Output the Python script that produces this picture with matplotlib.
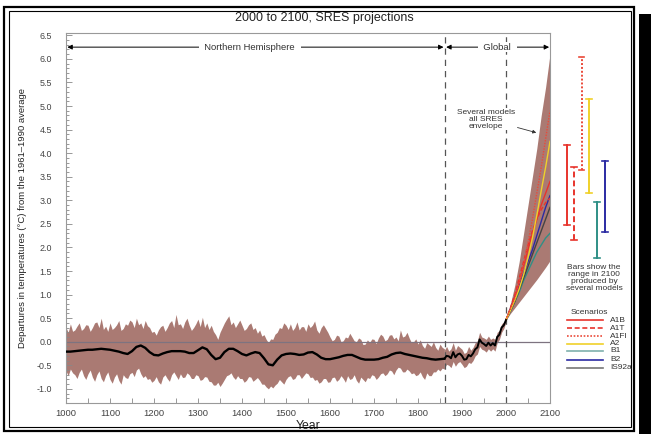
import numpy as np
import matplotlib
matplotlib.use('Agg')
import matplotlib.pyplot as plt
from matplotlib.lines import Line2D
from matplotlib.patches import Rectangle
import matplotlib.transforms as mtrans

plt.rcParams['font.family'] = ['Liberation Sans', 'DejaVu Sans']

# ---------------- data ----------------
# Northern Hemisphere reconstruction uncertainty band 1000-1860 (every 5 years)
band_years = np.arange(1000, 1861, 5)
nh_upper = [0.30, 0.20, 0.38, 0.22, 0.25, 0.33, 0.40, 0.24, 0.28, 0.36, 0.35, 0.22, 0.30, 0.40, 0.42, 0.30, 0.50, 0.26, 0.33, 0.22,
            0.40, 0.26, 0.30, 0.36, 0.45, 0.24, 0.28, 0.38, 0.35, 0.46, 0.42, 0.30, 0.50, 0.36, 0.40, 0.28, 0.45, 0.34, 0.30, 0.20,
            0.22, 0.14, 0.25, 0.32, 0.35, 0.22, 0.30, 0.40, 0.45, 0.30, 0.58, 0.36, 0.38, 0.28, 0.42, 0.50, 0.35, 0.24, 0.30, 0.38,
            0.48, 0.32, 0.52, 0.30, 0.40, 0.26, 0.35, 0.22, 0.15, 0.05, 0.20, 0.30, 0.40, 0.48, 0.55, 0.36, 0.42, 0.30, 0.38, 0.46,
            0.35, 0.24, 0.28, 0.36, 0.40, 0.26, 0.30, 0.18, 0.25, 0.12, 0.15, 0.05, -0.02, 0.06, 0.05, 0.16, 0.20, 0.30, 0.28, 0.40,
            0.35, 0.26, 0.38, 0.24, 0.30, 0.42, 0.25, 0.32, 0.32, 0.22, 0.38, 0.30, 0.35, 0.44, 0.25, 0.18, 0.30, 0.36, 0.28, 0.20,
            0.10, 0.02, 0.05, 0.14, 0.12, 0.00, 0.02, 0.10, 0.08, 0.18, 0.10, 0.02, 0.00, 0.08, 0.05, -0.06, -0.05, 0.04, -0.02, 0.06,
            0.05, -0.04, 0.08, 0.16, 0.12, 0.02, 0.05, 0.14, 0.15, 0.06, 0.10, 0.02, 0.25, 0.10, 0.12, 0.20, 0.08, -0.02, 0.00, 0.06,
            -0.05, 0.04, -0.08, -0.14, -0.02, -0.06, -0.10, 0.00, -0.12, -0.18, -0.05, -0.12,
            -0.15]
nh_lower = [-0.62, -0.72, -0.58, -0.66, -0.70, -0.78, -0.65, -0.58, -0.72, -0.80, -0.68, -0.60, -0.75, -0.84, -0.70, -0.62, -0.78, -0.85, -0.72, -0.64,
            -0.80, -0.88, -0.75, -0.68, -0.82, -0.90, -0.70, -0.76, -0.78, -0.68, -0.65, -0.74, -0.60, -0.56, -0.68, -0.76, -0.72, -0.80, -0.78, -0.86,
            -0.82, -0.74, -0.85, -0.90, -0.75, -0.70, -0.78, -0.84, -0.70, -0.64, -0.72, -0.80, -0.68, -0.76, -0.75, -0.66, -0.70, -0.78, -0.78, -0.70,
            -0.72, -0.82, -0.80, -0.74, -0.75, -0.84, -0.85, -0.92, -0.92, -0.86, -0.95, -0.88, -0.80, -0.72, -0.70, -0.66, -0.75, -0.80, -0.72, -0.78,
            -0.78, -0.86, -0.82, -0.74, -0.75, -0.84, -0.80, -0.76, -0.82, -0.90, -0.90, -0.96, -1.00, -0.94, -0.98, -0.92, -0.88, -0.80, -0.85, -0.90,
            -0.80, -0.74, -0.72, -0.80, -0.78, -0.70, -0.70, -0.78, -0.72, -0.66, -0.68, -0.76, -0.75, -0.82, -0.80, -0.88, -0.85, -0.78, -0.78, -0.86,
            -0.85, -0.76, -0.75, -0.84, -0.80, -0.72, -0.78, -0.86, -0.72, -0.80, -0.78, -0.70, -0.82, -0.88, -0.75, -0.80, -0.85, -0.76, -0.78, -0.70,
            -0.72, -0.80, -0.75, -0.68, -0.66, -0.72, -0.68, -0.60, -0.62, -0.70, -0.60, -0.54, -0.56, -0.64, -0.64, -0.58, -0.62, -0.68, -0.66, -0.72,
            -0.70, -0.64, -0.74, -0.80, -0.66, -0.72, -0.72, -0.64, -0.64, -0.58, -0.62, -0.56,
            -0.58]

# Smoothed NH reconstruction 1000-1860 (every 10 years)
nh_years = np.arange(1000, 1861, 10)
nh_mean = [-0.21, -0.21, -0.20, -0.19, -0.18, -0.17, -0.17, -0.16, -0.15, -0.16,
           -0.17, -0.19, -0.21, -0.24, -0.26, -0.20, -0.11, -0.08, -0.13, -0.22,
           -0.28, -0.29, -0.25, -0.22, -0.20, -0.20, -0.20, -0.21, -0.24, -0.24,
           -0.18, -0.12, -0.16, -0.28, -0.37, -0.34, -0.22, -0.15, -0.15, -0.20,
           -0.26, -0.29, -0.25, -0.22, -0.24, -0.35, -0.48, -0.50, -0.38, -0.29,
           -0.26, -0.25, -0.26, -0.28, -0.27, -0.23, -0.22, -0.27, -0.34, -0.37,
           -0.37, -0.35, -0.33, -0.30, -0.28, -0.28, -0.32, -0.36, -0.38, -0.38,
           -0.38, -0.37, -0.34, -0.32, -0.27, -0.24, -0.23, -0.26, -0.28, -0.30,
           -0.32, -0.34, -0.35, -0.37, -0.38, -0.37, -0.36]

# Instrumental (global) 1860-2000 (every 5 years)
ins_years = np.arange(1860, 2001, 5)
ins_mean = [-0.36, -0.30, -0.31, -0.35, -0.22, -0.33, -0.27, -0.25, -0.30, -0.38,
            -0.37, -0.28, -0.31, -0.25, -0.16, -0.12, 0.05, -0.02, -0.05, -0.09,
            -0.02, -0.08, -0.03, -0.08, 0.10, 0.15, 0.30, 0.35, 0.46]
ins_upper = [-0.18, -0.10, -0.20, -0.15, -0.02, -0.18, -0.08, -0.12, -0.16, -0.25,
             -0.22, -0.10, -0.18, -0.12, -0.02, 0.02, 0.20, 0.10, 0.08, 0.05,
             0.12, 0.05, 0.08, 0.05, 0.20, 0.24, 0.38, 0.42, 0.50]
ins_lower = [-0.56, -0.48, -0.50, -0.55, -0.42, -0.52, -0.45, -0.42, -0.48, -0.55,
             -0.52, -0.44, -0.46, -0.40, -0.30, -0.26, -0.10, -0.16, -0.18, -0.22,
             -0.15, -0.20, -0.15, -0.20, -0.02, 0.05, 0.20, 0.28, 0.42]

# Projections 2000-2100 (every 10 years)
proj_years = np.arange(2000, 2101, 10)
env_upper = [0.46, 0.80, 1.20, 1.70, 2.30, 2.90, 3.50, 4.10, 4.80, 5.40, 6.10]
env_lower = [0.46, 0.60, 0.72, 0.84, 0.96, 1.08, 1.20, 1.32, 1.45, 1.58, 1.72]
scenarios = ['A1B', 'A1T', 'A1FI', 'A2', 'B1', 'B2', 'IS92a']
sc_A1B = [0.46, 0.70, 0.95, 1.25, 1.60, 1.95, 2.30, 2.60, 2.90, 3.15, 3.40]
sc_A1T = [0.46, 0.72, 1.00, 1.35, 1.70, 2.05, 2.35, 2.60, 2.80, 2.95, 3.05]
sc_A1FI = [0.46, 0.68, 0.92, 1.25, 1.65, 2.10, 2.60, 3.15, 3.70, 4.30, 4.90]
sc_A2 = [0.46, 0.66, 0.88, 1.12, 1.42, 1.78, 2.20, 2.68, 3.20, 3.70, 4.25]
sc_B1 = [0.46, 0.64, 0.85, 1.05, 1.30, 1.50, 1.70, 1.90, 2.05, 2.20, 2.30]
sc_B2 = [0.46, 0.70, 0.95, 1.20, 1.45, 1.70, 1.95, 2.25, 2.55, 2.85, 3.10]
sc_IS92a = [0.46, 0.65, 0.85, 1.10, 1.35, 1.60, 1.85, 2.10, 2.35, 2.60, 2.85]

# Range bars in 2100 (several models)
bar_names = ['A1B', 'A1T', 'A1FI', 'A2', 'B1', 'B2']
bar_lo = [2.48, 2.16, 3.64, 3.16, 1.77, 2.32]
bar_hi = [4.17, 3.71, 6.04, 5.16, 2.97, 3.83]

ytick_vals = [-1.0, -0.5, 0.0, 0.5, 1.0, 1.5, 2.0, 2.5, 3.0, 3.5, 4.0, 4.5, 5.0, 5.5, 6.0, 6.5]
xtick_vals = [1000, 1100, 1200, 1300, 1400, 1500, 1600, 1700, 1800, 1900, 2000, 2100]

# ---------------- styles ----------------
W, H = 651, 434
BAND = '#aa7a73'
RED = '#e8342c'
RED2 = '#ea4a3a'
YEL = '#f0d12a'
TEAL = '#2f8f86'
TEAL_L = '#7fb0ad'
BLUE = '#2b2ba3'
styles = {
    'A1B': dict(color=RED, ls='-'),
    'A1T': dict(color=RED, ls=(0, (3, 1.6))),
    'A1FI': dict(color=RED2, ls=(0, (1, 1))),
    'A2': dict(color=YEL, ls='-'),
    'B1': dict(color=TEAL, ls='-'),
    'B2': dict(color=BLUE, ls='-'),
    'IS92a': dict(color='#444444', ls='-'),
}
legend_colors = dict(styles)
legend_colors['B1'] = dict(color=TEAL_L, ls='-')
legend_colors['IS92a'] = dict(color='#777777', ls='-')


def fx(px):
    return px / W


def fy(py):
    return 1 - py / H


fig = plt.figure(figsize=(W / 100, H / 100), dpi=100)
fig.patch.set_facecolor('white')

# outer frame
fig.add_artist(Rectangle((fx(4), fy(431)), fx(634) - fx(4), fy(7) - fy(431), transform=fig.transFigure,
                         fill=False, lw=1.6, ec='black'))
fig.add_artist(Rectangle((fx(9), fy(427)), fx(631) - fx(9), fy(11) - fy(427), transform=fig.transFigure,
                         fill=False, lw=0.8, ec='black'))
fig.add_artist(Rectangle((fx(639), 0), 1 - fx(639), fy(14), transform=fig.transFigure,
                         fill=True, lw=0, fc='black'))

ax = fig.add_axes([fx(66), fy(403), fx(550) - fx(66), fy(33) - fy(403)])
ax.set_xlim(1000, 2100)
ax.set_ylim(-1.3, 6.55)

# bands
ax.fill_between(band_years, nh_lower, nh_upper, color=BAND, lw=0, zorder=1)
ax.fill_between(ins_years, ins_lower, ins_upper, color=BAND, lw=0, zorder=1)
ax.fill_between(proj_years, env_lower, env_upper, color=BAND, lw=0, zorder=1)

# zero line and dashed separators
ax.axhline(0, color='#7d7380', lw=0.9, zorder=2)
for xv in (1861, 2000):
    ax.axvline(xv, color='#555555', lw=0.9, ls=(0, (5, 4)), zorder=2)

# scenario lines
sc_data = {'A1B': sc_A1B, 'A1T': sc_A1T, 'A1FI': sc_A1FI, 'A2': sc_A2,
           'B1': sc_B1, 'B2': sc_B2, 'IS92a': sc_IS92a}
for name in ['B1', 'IS92a', 'B2', 'A1T', 'A1B', 'A2', 'A1FI']:
    st = styles[name]
    ax.plot(proj_years, sc_data[name], color=st['color'], ls=st['ls'], lw=1.0, zorder=3)

# black curves
ax.plot(nh_years, nh_mean, color='black', lw=1.7, zorder=4)
ax.plot(ins_years, ins_mean, color='black', lw=1.4, zorder=4)

# top arrows
arr = dict(arrowstyle='<|-|>', color='black', lw=0.7, mutation_scale=7, shrinkA=0, shrinkB=0)
ax.annotate('', xy=(1003, 6.25), xytext=(1858, 6.25), arrowprops=arr, zorder=5)
ax.annotate('', xy=(1864, 6.25), xytext=(2098, 6.25), arrowprops=arr, zorder=5)
ax.text(1418, 6.25, '  Northern Hemisphere  ', ha='center', va='center', fontsize=6.8, color='#333333',
        bbox=dict(fc='white', ec='none', pad=0.5), zorder=6)
ax.text(1980, 6.25, '  Global  ', ha='center', va='center', fontsize=6.8, color='#333333',
        bbox=dict(fc='white', ec='none', pad=0.5), zorder=6)

# envelope annotation
ax.text(1955, 4.72, 'Several models\nall SRES\nenvelope', ha='center', va='center', fontsize=6.0,
        color='#333333', linespacing=1.0, zorder=6, bbox=dict(fc='white', ec='none', pad=0.3))
ax.annotate('', xy=(2075, 4.42), xytext=(2020, 4.56),
            arrowprops=dict(arrowstyle='-|>', color='#333333', lw=0.6, mutation_scale=5), zorder=6)

# axes styling
for sp in ax.spines.values():
    sp.set_color('#999999')
    sp.set_linewidth(0.8)
ax.set_yticks(ytick_vals)
ax.set_yticklabels([f'{v:.1f}' for v in ytick_vals])
ax.set_yticks(np.arange(-1.3, 6.56, 0.1), minor=True)
ax.set_xticks(xtick_vals)
ax.set_xticklabels([str(v) for v in xtick_vals])
ax.set_xticks(np.arange(1050, 2100, 100), minor=True)
ax.tick_params(axis='both', which='both', direction='in', color='#888888', labelcolor='#444444',
               width=0.6)
ax.tick_params(axis='y', which='major', length=4, pad=10, labelsize=6.4)
ax.tick_params(axis='y', which='minor', length=2.5)
ax.tick_params(axis='x', which='both', length=3.5, pad=4, labelsize=6.8)
ax.set_xlabel('Year', fontsize=8.8, color='#222222', labelpad=2)
ax.set_ylabel('Departures in temperatures (\u00b0C) from the 1961\u20131990 average', fontsize=6.8,
              color='#222222', labelpad=7)

fig.text(fx(324), fy(18), '2000 to 2100, SRES projections', ha='center', va='center', fontsize=9,
         color='#222222')

# range bars (x in figure coords, y in data coords)
btr = mtrans.blended_transform_factory(fig.transFigure, ax.transData)
bar_x = [567, 574, 581.5, 589, 597, 605]
for name, xp, lo, hi in zip(bar_names, bar_x, bar_lo, bar_hi):
    st = styles[name]
    c = st['color']
    ax.add_line(Line2D([fx(xp), fx(xp)], [lo, hi], transform=btr, color=c, ls=st['ls'], lw=1.4,
                       clip_on=False))
    for yv in (lo, hi):
        ax.add_line(Line2D([fx(xp - 2.8), fx(xp + 2.8)], [yv, yv], transform=btr, color=c, lw=1.2,
                           clip_on=False))

fig.text(fx(594), fy(278), 'Bars show the\nrange in 2100\nproduced by\nseveral models', ha='center',
         va='center', fontsize=6.0, color='#333333', linespacing=1.0)

fig.text(fx(589), fy(312), 'Scenarios', ha='center', va='center', fontsize=6.0, color='#333333')
leg_y = [320, 328, 336, 343.5, 351, 359.5, 367.5]
for name, yp in zip(scenarios, leg_y):
    st = legend_colors[name]
    fig.add_artist(Line2D([fx(567), fx(603)], [fy(yp), fy(yp)], transform=fig.transFigure,
                          color=st['color'], ls=st['ls'], lw=1.2))
    fig.text(fx(610), fy(yp), name, ha='left', va='center', fontsize=6.0, color='#333333')

fig.savefig('out.png', dpi=100, facecolor='white')
